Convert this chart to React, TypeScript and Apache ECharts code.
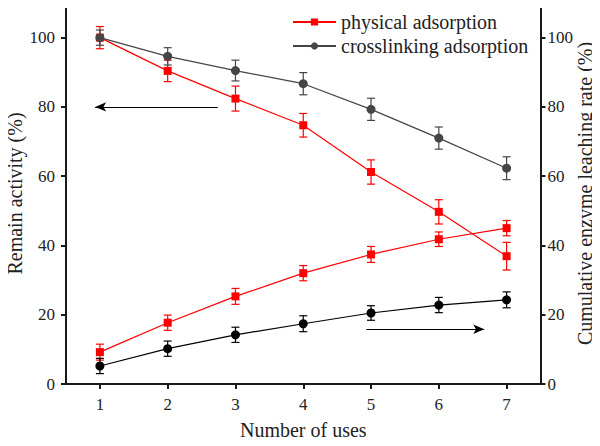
import React, { useEffect, useRef } from "react";
import * as echarts from "echarts";

const uses = [1, 2, 3, 4, 5, 6, 7];
const physRemain = [100, 90.4, 82.4, 74.7, 61.2, 49.7, 36.9];
const physRemainErr = [3.2, 3.1, 3.6, 3.4, 3.5, 3.5, 4.0];
const crossRemain = [100, 94.6, 90.5, 86.7, 79.3, 71.0, 62.3];
const crossRemainErr = [2.2, 2.5, 3.0, 3.2, 3.2, 3.2, 3.3];
const physLeach = [9.2, 17.7, 25.3, 32.0, 37.4, 41.8, 45.0];
const physLeachErr = [2.3, 2.2, 2.3, 2.2, 2.3, 2.1, 2.2];
const crossLeach = [5.2, 10.2, 14.2, 17.4, 20.5, 22.8, 24.3];
const crossLeachErr = [2.2, 2.2, 2.2, 2.3, 2.1, 2.2, 2.3];
const xTicks = [1, 2, 3, 4, 5, 6, 7];
const yTicks = [0, 20, 40, 60, 80, 100];

const RED = "#ff0000";
const GREY = "#454545";
const BLACK = "#000000";
const FONT = "'Liberation Serif', 'DejaVu Serif', serif";

function pts(v: number[]) {
  return uses.map((x, i) => [x, v[i]]);
}
function errData(v: number[], e: number[]) {
  return uses.map((x, i) => [x, v[i] - e[i], v[i] + e[i]]);
}
function errSeries(v: number[], e: number[], color: string, yAxisIndex: number) {
  return {
    type: "custom",
    yAxisIndex,
    silent: true,
    z: 1,
    encode: { x: 0, y: [1, 2] },
    data: errData(v, e),
    renderItem: (params: any, api: any) => {
      const x = api.value(0);
      const lo = api.coord([x, api.value(1)]);
      const hi = api.coord([x, api.value(2)]);
      const w = 4;
      const style = { stroke: color, lineWidth: 1.2 };
      return {
        type: "group",
        children: [
          { type: "line", shape: { x1: lo[0], y1: lo[1], x2: hi[0], y2: hi[1] }, style },
          { type: "line", shape: { x1: lo[0] - w, y1: lo[1], x2: lo[0] + w, y2: lo[1] }, style },
          { type: "line", shape: { x1: hi[0] - w, y1: hi[1], x2: hi[0] + w, y2: hi[1] }, style },
        ],
      };
    },
  };
}

export default function App() {
  const ref = useRef<HTMLDivElement>(null);
  useEffect(() => {
    if (!ref.current) return;
    const chart = echarts.init(ref.current, undefined, { renderer: "svg" });
    const axisCommon = {
      nameMoveOverlap: false,
      axisLine: { show: true, lineStyle: { color: "#1a1a1a", width: 2 } },
      axisTick: { show: true, length: 5, lineStyle: { color: "#1a1a1a", width: 2 } },
      splitLine: { show: false },
      axisLabel: { color: "#222", fontFamily: FONT, fontSize: 17 },
      nameTextStyle: { color: "#222", fontFamily: FONT, fontSize: 20 },
    };
    chart.setOption({
      animation: false,
      backgroundColor: "#fff",
      textStyle: { fontFamily: FONT },
      grid: {
        left: 66,
        right: 59.5,
        top: 3,
        bottom: 62,
        containLabel: false,
        outerBoundsMode: "none",
      },
      legend: {
        left: 292,
        top: 12,
        padding: 0,
        orient: "vertical",
        itemWidth: 43,
        itemHeight: 9,
        itemGap: 4,
        data: ["physical adsorption", "crosslinking adsorption"],
        textStyle: { fontFamily: FONT, fontSize: 20, lineHeight: 20, color: "#222" },
      },
      xAxis: {
        type: "value",
        min: 0.5,
        max: 7.5,
        name: "Number of uses",
        nameLocation: "middle",
        nameGap: 36,
        ...axisCommon,
        axisTick: { ...axisCommon.axisTick, customValues: xTicks },
        axisLabel: { ...axisCommon.axisLabel, customValues: xTicks, margin: 12 },
      },
      yAxis: [
        {
          type: "value",
          min: 0,
          max: 110,
          position: "left",
          name: "Remain activity (%)",
          nameLocation: "middle",
          nameGap: 41,
          ...axisCommon,
          axisTick: { ...axisCommon.axisTick, customValues: yTicks },
          axisLabel: { ...axisCommon.axisLabel, customValues: yTicks, margin: 11 },
        },
        {
          type: "value",
          min: 0,
          max: 110,
          position: "right",
          name: "Cumulative enzyme leaching rate (%)",
          nameLocation: "middle",
          nameGap: 34,
          ...axisCommon,
          axisTick: { ...axisCommon.axisTick, customValues: yTicks },
          axisLabel: { ...axisCommon.axisLabel, customValues: yTicks, margin: 7 },
        },
      ],
      series: [
        errSeries(physRemain, physRemainErr, RED, 0),
        errSeries(crossRemain, crossRemainErr, GREY, 0),
        errSeries(physLeach, physLeachErr, RED, 1),
        errSeries(crossLeach, crossLeachErr, BLACK, 1),
        {
          name: "physical adsorption",
          type: "line",
          yAxisIndex: 0,
          data: pts(physRemain),
          symbol: "rect",
          symbolSize: 8,
          z: 3,
          itemStyle: { color: RED },
          lineStyle: { color: RED, width: 1.2 },
          markLine: {
            silent: true,
            symbol: ["none", "arrow"],
            symbolSize: [7, 11],
            lineStyle: { color: BLACK, width: 1, type: "solid" },
            label: { show: false },
            data: [[{ coord: [2.74, 80] }, { coord: [0.93, 80] }]],
          },
        },
        {
          name: "crosslinking adsorption",
          type: "line",
          yAxisIndex: 0,
          data: pts(crossRemain),
          symbol: "circle",
          symbolSize: 9,
          z: 3,
          itemStyle: { color: GREY },
          lineStyle: { color: GREY, width: 1.2 },
        },
        {
          name: "physical leaching",
          type: "line",
          yAxisIndex: 1,
          data: pts(physLeach),
          symbol: "rect",
          symbolSize: 8,
          z: 3,
          itemStyle: { color: RED },
          lineStyle: { color: RED, width: 1.2 },
        },
        {
          name: "crosslinking leaching",
          type: "line",
          yAxisIndex: 1,
          data: pts(crossLeach),
          symbol: "circle",
          symbolSize: 9,
          z: 3,
          itemStyle: { color: BLACK },
          lineStyle: { color: BLACK, width: 1.2 },
          markLine: {
            silent: true,
            symbol: ["none", "arrow"],
            symbolSize: [7, 11],
            lineStyle: { color: BLACK, width: 1, type: "solid" },
            label: { show: false },
            data: [[{ coord: [4.93, 15.8] }, { coord: [6.67, 15.8] }]],
          },
        },
      ],
    });
    return () => chart.dispose();
  }, []);
  return <div ref={ref} style={{ width: 600, height: 446, margin: -8 }} />;
}
